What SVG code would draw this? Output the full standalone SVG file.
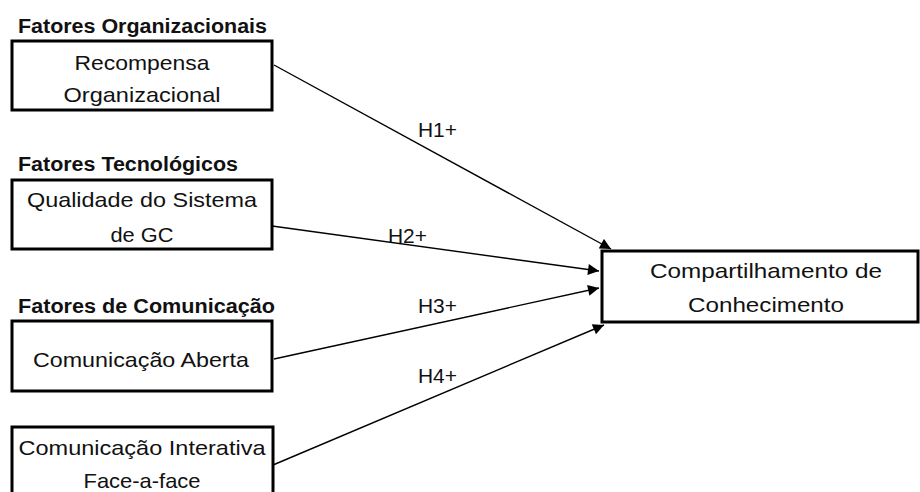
<svg xmlns="http://www.w3.org/2000/svg" width="920" height="492" viewBox="0 0 920 492">
<style>
.box{fill:#fff;stroke:#000;stroke-width:3}
.t{font-family:"Liberation Sans",Arial,sans-serif;font-size:21px;fill:#111;text-anchor:middle}
.h{font-family:"Liberation Sans",Arial,sans-serif;font-size:20px;font-weight:bold;fill:#111}
.lbl{font-family:"Liberation Sans",Arial,sans-serif;font-size:21px;fill:#111}
.c{stroke:#000;stroke-width:1.4;fill:none;marker-end:url(#ah)}
</style>
<defs>
<marker id="ah" viewBox="0 0 10 10" refX="10" refY="5" markerWidth="13" markerHeight="11" markerUnits="userSpaceOnUse" orient="auto">
<path d="M0,0 L10,5 L0,10 Z" fill="#000"/>
</marker>
</defs>
<rect width="920" height="492" fill="#fff"/>
<g id="headings">
<text class="h" x="18" y="33" textLength="249" lengthAdjust="spacingAndGlyphs">Fatores Organizacionais</text>
<text class="h" x="18" y="171" textLength="220" lengthAdjust="spacingAndGlyphs">Fatores Tecnológicos</text>
<text class="h" x="18" y="313" textLength="257" lengthAdjust="spacingAndGlyphs">Fatores de Comunicação</text>
</g>
<g id="connectors">
<line class="c" x1="274" y1="65" x2="611" y2="249"/>
<line class="c" x1="272" y1="226" x2="599" y2="271"/>
<line class="c" x1="274" y1="359" x2="599" y2="288"/>
<line class="c" x1="273" y1="465" x2="604" y2="325"/>
<text class="lbl" x="418" y="137" textLength="39" lengthAdjust="spacingAndGlyphs">H1+</text>
<text class="lbl" x="388" y="243" textLength="39" lengthAdjust="spacingAndGlyphs">H2+</text>
<text class="lbl" x="418" y="313" textLength="39" lengthAdjust="spacingAndGlyphs">H3+</text>
<text class="lbl" x="418" y="383" textLength="39" lengthAdjust="spacingAndGlyphs">H4+</text>
</g>
<g id="n1">
<rect class="box" x="12" y="41" width="260" height="69"/>
<text class="t" x="142" y="70" textLength="135" lengthAdjust="spacingAndGlyphs">Recompensa</text>
<text class="t" x="142" y="102" textLength="157" lengthAdjust="spacingAndGlyphs">Organizacional</text>
</g>
<g id="n2">
<rect class="box" x="12" y="180" width="260" height="69"/>
<text class="t" x="142" y="207" textLength="230" lengthAdjust="spacingAndGlyphs">Qualidade do Sistema</text>
<text class="t" x="142" y="242" textLength="63" lengthAdjust="spacingAndGlyphs">de GC</text>
</g>
<g id="n3">
<rect class="box" x="12" y="321" width="260" height="70"/>
<text class="t" x="141" y="367" textLength="216" lengthAdjust="spacingAndGlyphs">Comunicação Aberta</text>
</g>
<g id="n4">
<rect class="box" x="12" y="427" width="261" height="80"/>
<text class="t" x="142" y="455" textLength="247" lengthAdjust="spacingAndGlyphs">Comunicação Interativa</text>
<text class="t" x="142" y="488" textLength="117" lengthAdjust="spacingAndGlyphs">Face-a-face</text>
</g>
<g id="n5">
<rect class="box" x="602" y="251" width="316" height="71"/>
<text class="t" x="766" y="278" textLength="232" lengthAdjust="spacingAndGlyphs">Compartilhamento de</text>
<text class="t" x="766" y="312" textLength="156" lengthAdjust="spacingAndGlyphs">Conhecimento</text>
</g>
</svg>
